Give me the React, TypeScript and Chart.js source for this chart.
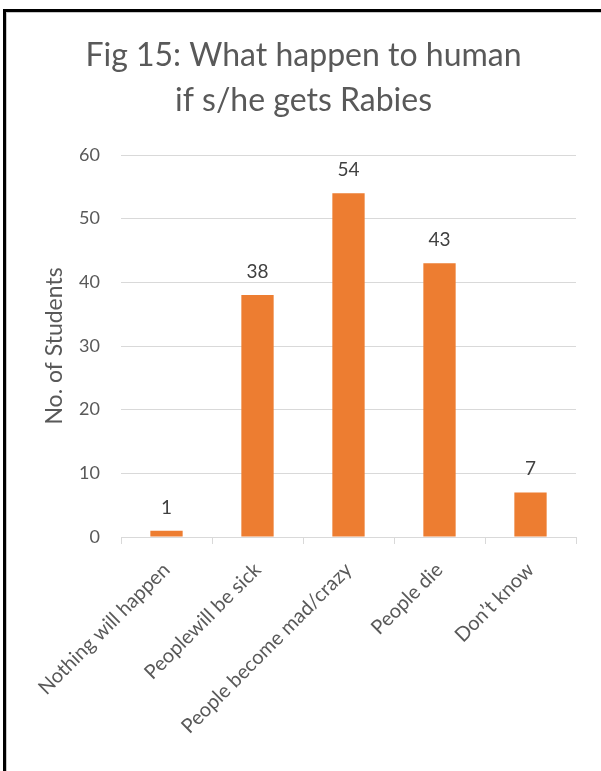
import React, { useEffect, useRef } from "react";
import { Chart, registerables } from "chart.js";

Chart.register(...registerables);

const categories = [
  "Nothing will happen",
  "Peoplewill be sick",
  "People become mad/crazy",
  "People die",
  "Don\u2019t know",
];
const values = [1, 38, 54, 43, 7];
const yMin = 0;
const yMax = 60;
const yStep = 10;
const titleLines = ["Fig 15: What happen to human", "if s/he gets Rabies"];
const yAxisTitle = "No. of Students";

const FONT = "Lato, 'Open Sans', sans-serif";
const GRAY = "#595959";
const GRID = "#d9d9d9";
const BAR = "#ED7D31";

const valueLabels = {
  id: "valueLabels",
  afterDatasetsDraw(chart: any) {
    const ctx = chart.ctx;
    const meta = chart.getDatasetMeta(0);
    ctx.save();
    ctx.font = `19px ${FONT}`;
    ctx.fillStyle = "#404040";
    ctx.textAlign = "center";
    ctx.textBaseline = "alphabetic";
    meta.data.forEach((el: any, i: number) => {
      ctx.fillText(String(values[i]), el.x, el.y - 17);
    });
    ctx.restore();
  },
};

export default function App() {
  const ref = useRef<HTMLCanvasElement | null>(null);

  useEffect(() => {
    document.body.style.margin = "0";
    const canvas = ref.current;
    if (!canvas) return;
    const chart = new Chart(canvas, {
      type: "bar",
      data: {
        labels: categories,
        datasets: [
          {
            data: values,
            backgroundColor: BAR,
            borderWidth: 0,
            categoryPercentage: 1,
            barPercentage: 0.355,
          },
        ],
      },
      options: {
        animation: false,
        responsive: false,
        maintainAspectRatio: false,
        layout: { padding: { left: 31, right: 25, top: 0, bottom: 0 } },
        plugins: {
          legend: { display: false },
          tooltip: { enabled: false },
          title: {
            display: true,
            text: titleLines,
            color: GRAY,
            font: { family: FONT, size: 32, weight: "normal", lineHeight: "45px" as any },
            padding: { top: 33.5, bottom: 31.5 },
          },
        },
        scales: {
          x: {
            afterFit(scale: any) {
              scale.height = 234;
            },
            grid: {
              display: true,
              drawOnChartArea: false,
              drawTicks: true,
              tickLength: 7,
              color: GRID,
              offset: true,
            },
            border: { display: true, color: GRID },
            ticks: {
              color: GRAY,
              font: { family: FONT, size: 20 },
              minRotation: 45,
              maxRotation: 45,
              autoSkip: false,
              padding: 14,
              labelOffset: 0,
            },
          },
          y: {
            min: yMin,
            max: yMax,
            afterFit(scale: any) {
              scale.width = 90;
            },
            grid: { color: GRID, drawTicks: false },
            border: { display: false },
            ticks: {
              stepSize: yStep,
              color: GRAY,
              font: { family: FONT, size: 18 },
              padding: 21,
            },
            title: {
              display: true,
              text: yAxisTitle,
              color: GRAY,
              font: { family: FONT, size: 23 },
              padding: { top: 10, bottom: 0 },
            },
          },
        },
      },
      plugins: [valueLabels],
    });
    return () => chart.destroy();
  }, []);

  return (
    <div style={{ position: "relative", width: 601, height: 771, overflow: "hidden", background: "#fff" }}>
      <canvas ref={ref} width={601} height={771} style={{ position: "absolute", left: 0, top: 0, width: 601, height: 771 }} />
      <div
        style={{
          position: "absolute",
          left: 3,
          top: 9,
          width: 640,
          height: 800,
          borderLeft: "3px solid #000",
          borderTop: "3px solid #000",
          boxShadow: "inset 1px 1px 0 #c8c8c8",
          pointerEvents: "none",
        }}
      />
    </div>
  );
}
